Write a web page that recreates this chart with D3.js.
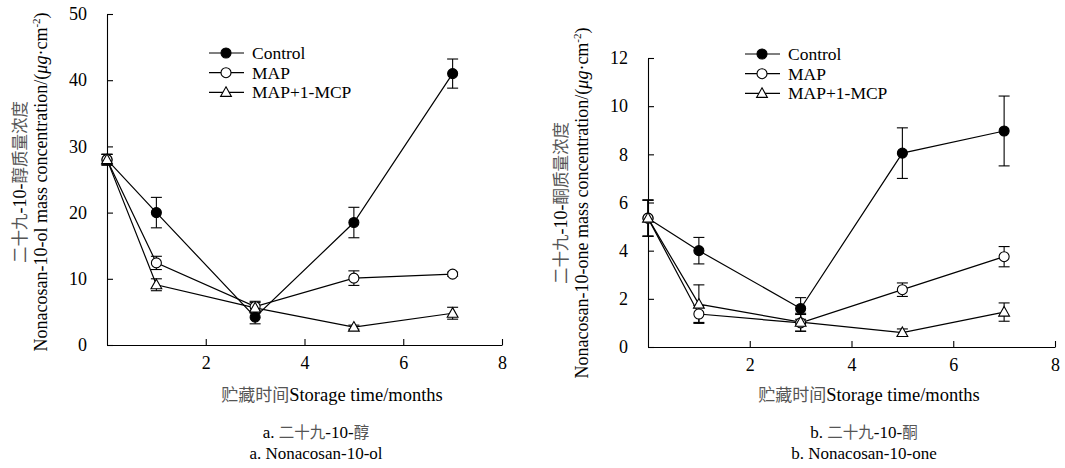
<!DOCTYPE html>
<html lang="zh">
<head>
    <meta charset="UTF-8">
    <title>二十九-10-醇 / 二十九-10-酮</title>
    <script src="https://d3js.org/d3.v7.min.js"></script>
    <style>
        body { margin: 0; background: #fff; }
    </style>
</head>
<body>
<svg width="1065" height="468"></svg>
<script>
    // storage time (months)
    var months = [0, 1, 3, 5, 7];
    var seriesNames = ["Control", "MAP", "MAP+1-MCP"];

    // a. Nonacosan-10-ol (ug/cm2)
    var olControl    = [28.0, 20.0, 4.2, 18.5, 41.0];
    var olControlErr = [0.8, 2.3, 1.0, 2.3, 2.2];
    var olMAP        = [28.0, 12.4, 5.8, 10.1, 10.7];
    var olMAPErr     = [0.8, 1.0, 0.8, 1.1, 0.3];
    var olMCP        = [28.0, 9.1, 5.6, 2.7, 4.8];
    var olMCPErr     = [0.8, 0.9, 0.8, 0.3, 0.9];

    // b. Nonacosan-10-one (ug/cm2)
    var oneControl    = [5.35, 4.0, 1.6, 8.05, 8.97];
    var oneControlErr = [0.75, 0.55, 0.45, 1.05, 1.45];
    var oneMAP        = [5.35, 1.37, 1.0, 2.38, 3.75];
    var oneMAPErr     = [0.75, 0.35, 0.35, 0.28, 0.42];
    var oneMCP        = [5.35, 1.78, 1.03, 0.6, 1.45];
    var oneMCPErr     = [0.75, 0.8, 0.37, 0.15, 0.38];

    var olYTicks  = [0, 10, 20, 30, 40, 50];
    var oneYTicks = [0, 2, 4, 6, 8, 10, 12];
    var xTicks    = [2, 4, 6, 8];

    var SERIF = "'Liberation Serif', 'DejaVu Serif', serif";
    var CJK = "'Noto Sans CJK SC', sans-serif";

    var svg = d3.select("svg");

    // each panel gets its own plot box
    var panels = [
        {
            left: 107, right: 502, top: 14, bottom: 345, yMax: 50, yTicks: olYTicks,
            series: [[olControl, olControlErr], [olMAP, olMAPErr], [olMCP, olMCPErr]],
            yLabelCjk: ["二十九", "-10-", "醇质量浓度"], yLabelEn: "Nonacosan-10-ol mass concentration/(",
            yLabelX: [20, 41], yLabelY: 182,
            legendX: 209, legendY: 53,
            xLabelX: 332, capX: 316,
            capCjk: ["a. ", "二十九", "-10-", "醇"], capEn: "a. Nonacosan-10-ol"
        },
        {
            left: 648, right: 1055, top: 58, bottom: 347, yMax: 12, yTicks: oneYTicks,
            series: [[oneControl, oneControlErr], [oneMAP, oneMAPErr], [oneMCP, oneMCPErr]],
            yLabelCjk: ["二十九", "-10-", "酮质量浓度"], yLabelEn: "Nonacosan-10-one mass concentration/(",
            yLabelX: [561, 582], yLabelY: 203,
            legendX: 745, legendY: 54,
            xLabelX: 869, capX: 864,
            capCjk: ["b.  ", "二十九", "-10-", "酮"], capEn: "b. Nonacosan-10-one"
        }
    ];

    function drawMarker(sel, i) {
        if (i === 2) {
            sel.append("path")
                .attr("d", "M0,-5.6L5.4,4L-5.4,4Z")
                .attr("fill", "#fff").attr("stroke", "#000").attr("stroke-width", 1.1);
        } else {
            sel.append("circle")
                .attr("r", 5)
                .attr("fill", i === 0 ? "#000" : "#fff")
                .attr("stroke", "#000").attr("stroke-width", 1.1);
        }
    }

    // mixed CJK / latin text pieces, CJK drawn a bit lighter
    function addCjk(t, parts, size) {
        parts.forEach(function(s) {
            var isCjk = /[\u4e00-\u9fff]/.test(s);
            t.append("tspan")
                .style("font-family", isCjk ? CJK : SERIF)
                .style("font-size", (isCjk ? size - 1.5 : size) + "px")
                .style("fill", isCjk ? "#555" : "#000")
                .text(s);
        });
    }

    panels.forEach(function(p) {
        var x = d3.scaleLinear().domain([0, 8]).range([p.left, p.right]);
        var y = d3.scaleLinear().domain([0, p.yMax]).range([p.bottom, p.top]);
        var g = svg.append("g");

        // axes with inward ticks
        g.append("g")
            .attr("transform", "translate(" + p.left + ",0)")
            .call(d3.axisLeft(y).tickValues(p.yTicks).tickSizeInner(-6).tickSizeOuter(0).tickPadding(20))
            .call(function(a) {
                a.attr("font-family", null).attr("font-size", null);
                a.selectAll("text").style("font-family", SERIF).style("font-size", "18px").attr("fill", "#000");
                a.selectAll("path,line").attr("stroke", "#000").attr("stroke-width", 1.1);
            });
        g.append("g")
            .attr("transform", "translate(0," + p.bottom + ")")
            .call(d3.axisBottom(x).tickValues(xTicks).tickSizeInner(-6).tickSizeOuter(0).tickPadding(11))
            .call(function(a) {
                a.attr("font-family", null).attr("font-size", null);
                a.selectAll("text").style("font-family", SERIF).style("font-size", "18px").attr("fill", "#000");
                a.selectAll("path,line").attr("stroke", "#000").attr("stroke-width", 1.1);
            });

        var line = d3.line()
            .x(function(d) { return x(d[0]); })
            .y(function(d) { return y(d[1]); });

        p.series.forEach(function(s) {
            var pts = months.map(function(m, k) { return [m, s[0][k], s[1][k]]; });
            g.append("path")
                .datum(pts)
                .attr("d", line)
                .attr("fill", "none")
                .attr("stroke", "#000")
                .attr("stroke-width", 1.2);
        });

        // error bars
        p.series.forEach(function(s) {
            var pts = months.map(function(m, k) { return [m, s[0][k], s[1][k]]; });
            var eb = g.append("g").selectAll("g").data(pts).enter().append("g")
                .attr("stroke", "#000").attr("stroke-width", 1.1);
            eb.append("line")
                .attr("x1", function(d) { return x(d[0]); }).attr("x2", function(d) { return x(d[0]); })
                .attr("y1", function(d) { return y(d[1] + d[2]); }).attr("y2", function(d) { return y(d[1] - d[2]); });
            eb.append("line")
                .attr("x1", function(d) { return x(d[0]) - 5.5; }).attr("x2", function(d) { return x(d[0]) + 5.5; })
                .attr("y1", function(d) { return y(d[1] + d[2]); }).attr("y2", function(d) { return y(d[1] + d[2]); });
            eb.append("line")
                .attr("x1", function(d) { return x(d[0]) - 5.5; }).attr("x2", function(d) { return x(d[0]) + 5.5; })
                .attr("y1", function(d) { return y(d[1] - d[2]); }).attr("y2", function(d) { return y(d[1] - d[2]); });
        });

        // markers
        p.series.forEach(function(s, i) {
            months.forEach(function(m, k) {
                var mk = g.append("g").attr("transform", "translate(" + x(m) + "," + y(s[0][k]) + ")");
                drawMarker(mk, i);
            });
        });

        // legend
        seriesNames.forEach(function(name, i) {
            var ly = p.legendY + i * 19.7;
            g.append("line")
                .attr("x1", p.legendX).attr("x2", p.legendX + 35)
                .attr("y1", ly).attr("y2", ly)
                .attr("stroke", "#000").attr("stroke-width", 1.2);
            drawMarker(g.append("g").attr("transform", "translate(" + (p.legendX + 17) + "," + ly + ")"), i);
            g.append("text")
                .attr("x", p.legendX + 43).attr("y", ly + 6)
                .style("font-family", SERIF)
                .style("font-size", "17.5px")
                .text(name);
        });

        // y axis title, two lines rotated
        var yc = g.append("text")
            .attr("transform", "translate(" + p.yLabelX[0] + "," + p.yLabelY + ") rotate(-90)")
            .attr("text-anchor", "middle").attr("dy", "0.35em");
        addCjk(yc, p.yLabelCjk, 18);
        var yt = g.append("text")
            .attr("transform", "translate(" + p.yLabelX[1] + "," + p.yLabelY + ") rotate(-90)")
            .attr("text-anchor", "middle").attr("dy", "0.35em")
            .style("font-family", SERIF)
            .style("font-size", "18px");
        yt.append("tspan").text(p.yLabelEn);
        yt.append("tspan").style("font-style", "italic").text("μg");
        yt.append("tspan").text("·cm");
        yt.append("tspan").attr("dy", "-7").style("font-size", "11px").text("-2");
        yt.append("tspan").attr("dy", "7").text(")");

        // x axis title
        var xt = g.append("text")
            .attr("x", p.xLabelX).attr("y", 401)
            .attr("text-anchor", "middle");
        addCjk(xt, ["贮藏时间", "Storage time/months"], 18.5);

        // captions
        var c1 = g.append("text")
            .attr("x", p.capX).attr("y", 438)
            .attr("text-anchor", "middle");
        addCjk(c1, p.capCjk, 17);
        g.append("text")
            .attr("x", p.capX).attr("y", 459)
            .attr("text-anchor", "middle")
            .style("font-family", SERIF)
            .style("font-size", "17px")
            .text(p.capEn);
    });
</script>
</body>
</html>
